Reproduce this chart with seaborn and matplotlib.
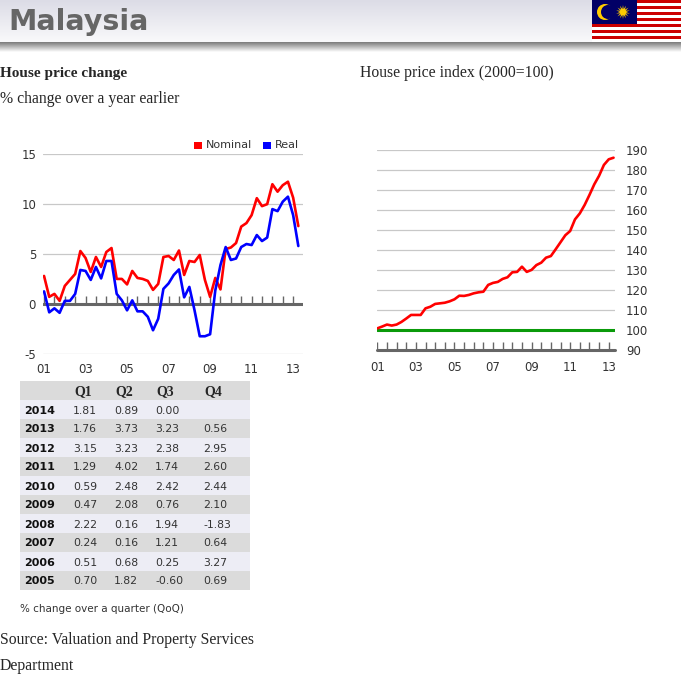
import numpy as np
import pandas as pd
import matplotlib
matplotlib.use("Agg")
import matplotlib.pyplot as plt
import seaborn as sns
from matplotlib.patches import Rectangle, Circle, Polygon

W, H = 681, 680

# quarterly data, 2001Q1 .. 2013Q2
quarters = list(range(50))
nominal = [2.8, 0.7, 1.0, 0.3, 1.8, 2.4, 3.0, 5.3, 4.6, 3.2,
           4.7, 3.7, 5.2, 5.6, 2.5, 2.5, 1.95, 3.3, 2.6, 2.5,
           2.3, 1.4, 2.0, 4.7, 4.8, 4.4, 5.35, 2.9, 4.3, 4.2,
           4.9, 2.4, 0.7, 2.6, 1.45, 5.5, 5.65, 6.1, 7.75, 8.1,
           8.9, 10.6, 9.8, 10.0, 12.0, 11.25, 11.9, 12.25, 10.65, 7.8]
real = [1.25, -0.85, -0.45, -0.9, 0.3, 0.3, 1.0, 3.4, 3.3, 2.4,
        3.7, 2.55, 4.3, 4.3, 1.0, 0.35, -0.65, 0.35, -0.75, -0.75,
        -1.3, -2.65, -1.5, 1.5, 2.05, 2.9, 3.45, 0.65, 1.7, -0.65,
        -3.25, -3.25, -3.05, 1.35, 3.9, 5.7, 4.4, 4.55, 5.7, 6.0,
        5.9, 6.9, 6.3, 6.65, 9.5, 9.3, 10.25, 10.75, 8.9, 5.8]
price_index = [100.8, 101.7, 102.7, 102.2, 102.7, 104.0, 105.7, 107.5, 107.5, 107.5,
               110.8, 111.6, 113.0, 113.3, 113.6, 114.3, 115.3, 117.1, 117.0, 117.5,
               118.3, 118.8, 119.1, 122.5, 123.5, 124.0, 125.5, 126.3, 128.8, 129.0,
               131.6, 129.0, 130.0, 132.4, 133.6, 136.1, 136.9, 140.3, 143.8, 147.3,
               149.4, 155.2, 158.2, 162.4, 167.4, 172.7, 177.0, 182.4, 185.2, 186.0]
base_value = 100
year_labels = ["01", "03", "05", "07", "09", "11", "13"]

table_years = ["2014", "2013", "2012", "2011", "2010", "2009", "2008", "2007", "2006", "2005"]
table_cols = ["Q1", "Q2", "Q3", "Q4"]
q1 = [1.81, 1.76, 3.15, 1.29, 0.59, 0.47, 2.22, 0.24, 0.51, 0.70]
q2 = [0.89, 3.73, 3.23, 4.02, 2.48, 2.08, 0.16, 0.16, 0.68, 1.82]
q3 = [0.00, 3.23, 2.38, 1.74, 2.42, 0.76, 1.94, 1.21, 0.25, -0.60]
q4 = [np.nan, 0.56, 2.95, 2.60, 2.44, 2.10, -1.83, 0.64, 3.27, 0.69]

sns.set_theme(style="white")
plt.rcParams["font.family"] = ["DejaVu Sans"]
plt.rcParams["axes.unicode_minus"] = False
SERIF = "Liberation Serif"
GREY_TXT = "#333333"

fig = plt.figure(figsize=(W / 100, H / 100), dpi=100)


def box(x0, y0, x1, y1):
    return [x0 / W, 1 - y1 / H, (x1 - x0) / W, (y1 - y0) / H]


# background / page axes in pixel coords
bg = fig.add_axes([0, 0, 1, 1])
bg.set_xlim(0, W)
bg.set_ylim(H, 0)
bg.axis("off")

# header band
grad = np.linspace(0, 1, 100)[:, None]
bg.imshow(grad, cmap=matplotlib.colors.LinearSegmentedColormap.from_list("h", ["#dcdce6", "#f9f9fb"]),
          extent=[0, W, 42, 0], aspect="auto")
bg.imshow(grad, cmap=matplotlib.colors.LinearSegmentedColormap.from_list("s", ["#7a7a7a", "#ffffff"]),
          extent=[0, W, 52, 42], aspect="auto")
bg.text(8, 22, "Malaysia", fontsize=20.5, fontweight="bold", color="#666666",
        va="center", ha="left")

# flag
fx0, fx1 = 592, 681
for i in range(14):
    bg.add_patch(Rectangle((fx0, i * 3), fx1 - fx0, 3, color="#cc0001" if i % 2 == 0 else "white", lw=0))
bg.add_patch(Rectangle((fx0, 0), 45, 24, color="#010066", lw=0))
bg.add_patch(Circle((605, 12), 8, color="#ffcc00", lw=0))
bg.add_patch(Circle((608, 12), 7, color="#010066", lw=0))
ang = np.linspace(0, 2 * np.pi, 29)[:-1] - np.pi / 2
rad = np.where(np.arange(28) % 2 == 0, 7, 3)
bg.add_patch(Polygon(np.c_[623 + rad * np.cos(ang), 12 + rad * np.sin(ang)], color="#ffcc00", lw=0))

# titles
bg.text(0, 73, "House price change", family=SERIF, fontweight="bold", fontsize=11, va="center")
bg.text(0, 99, "% change over a year earlier", family=SERIF, fontsize=11.3, va="center")
bg.text(360, 73, "House price index (2000=100)", family=SERIF, fontsize=11.3, va="center")

# legend
bg.add_patch(Rectangle((194, 142), 8, 7, color="#ff0000", lw=0))
bg.text(206, 145.5, "Nominal", fontsize=8, color=GREY_TXT, va="center")
bg.add_patch(Rectangle((263, 142), 8, 7, color="#0000ff", lw=0))
bg.text(275, 145.5, "Real", fontsize=8, color=GREY_TXT, va="center")

# ---- left chart
df = pd.DataFrame({"q": quarters * 2,
                   "value": nominal + real,
                   "series": ["Nominal"] * 50 + ["Real"] * 50})
ax1 = fig.add_axes(box(43, 154.3, 303, 353.7))
ax1.set_xlim(-0.2, 49.9)
ax1.set_ylim(-5, 15)
ax1.yaxis.grid(True, color="#c8c8c8", lw=0.9)
ax1.axhline(0, color="#666666", lw=2.2, zorder=1)
ax1.vlines(np.arange(0, 50, 2), 0, 0.8, color="#666666", lw=1, zorder=1)
sns.lineplot(data=df, x="q", y="value", hue="series", palette={"Nominal": "#ff0000", "Real": "#0000ff"},
             lw=1.9, legend=False, ax=ax1, zorder=3)
ax1.set_yticks([-5, 0, 5, 10, 15])
ax1.set_xticks(np.arange(0, 49, 8))
ax1.set_xticklabels(year_labels)
ax1.tick_params(axis="y", length=0, pad=5, labelsize=8.5, labelcolor=GREY_TXT)
ax1.tick_params(axis="x", length=0, pad=7, labelsize=8.5, labelcolor=GREY_TXT)
ax1.set_xlabel("")
ax1.set_ylabel("")
sns.despine(ax=ax1, left=True, bottom=True)

# ---- right chart
dfi = pd.DataFrame({"q": quarters, "value": price_index})
ax2 = fig.add_axes(box(377, 149.7, 615, 350))
ax2.set_xlim(-0.06, 49.3)
ax2.set_ylim(90, 190)
ax2.yaxis.grid(True, color="#c8c8c8", lw=0.9)
ax2.axhline(90, color="#666666", lw=2.2, zorder=1, clip_on=False)
ax2.vlines(np.arange(0, 50, 2), 90, 94, color="#666666", lw=1, zorder=1)
ax2.axhline(base_value, color="#0a9a0a", lw=2.2, zorder=2)
sns.lineplot(data=dfi, x="q", y="value", color="#ff0000", lw=1.9, ax=ax2, zorder=3)
ax2.set_yticks(np.arange(90, 191, 10))
ax2.yaxis.tick_right()
ax2.set_xticks(np.arange(0, 49, 8))
ax2.set_xticklabels(year_labels)
ax2.tick_params(axis="y", length=0, pad=8, labelsize=8.5, labelcolor=GREY_TXT)
ax2.tick_params(axis="x", length=0, pad=8, labelsize=8.5, labelcolor=GREY_TXT)
ax2.set_xlabel("")
ax2.set_ylabel("")
sns.despine(ax=ax2, left=True, bottom=True)

# ---- table
row_h = 19
top = 381
col_x = [73, 114, 155, 203]
for r in range(len(table_years) + 1):
    shade = "#dbdbdb" if r % 2 == 0 else "#ededf5"
    bg.add_patch(Rectangle((20, top + r * row_h), 230, row_h, color=shade, lw=0))
for c, name in enumerate(table_cols):
    bg.text(col_x[c] + 1, top + row_h / 2 + 1, name, family=SERIF, fontweight="bold",
            fontsize=10, va="center")
for r, yr in enumerate(table_years):
    yc = top + (r + 1) * row_h + row_h / 2 + 1
    bg.text(24, yc, yr, fontweight="bold", fontsize=8, va="center", color="#111111")
    for c, col in enumerate([q1, q2, q3, q4]):
        v = col[r]
        if not np.isnan(v):
            bg.text(col_x[c], yc, f"{v:.2f}", fontsize=7.8, va="center", color=GREY_TXT)

bg.text(20, 609, "% change over a quarter (QoQ)", fontsize=7.5, va="center", color=GREY_TXT)
bg.text(0, 640, "Source: Valuation and Property Services", family=SERIF, fontsize=11.3, va="center")
bg.text(0, 666, "Department", family=SERIF, fontsize=11.3, va="center")

fig.savefig("out.png", dpi=100)
